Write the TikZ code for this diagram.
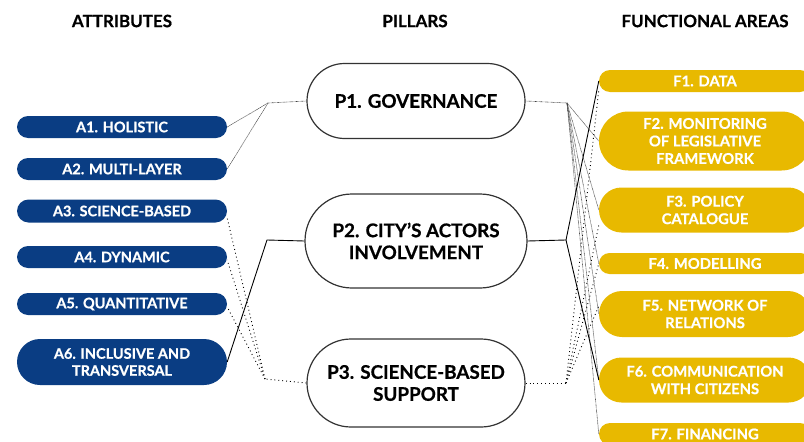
\documentclass[tikz,border=0pt]{standalone}
\usepackage{fontspec}
\setmainfont{Lato}[BoldFont={Lato Bold},BoldFeatures={FakeBold=0.6}]
\definecolor{navy}{HTML}{0A3D83}
\definecolor{gold}{HTML}{E8B900}
\definecolor{edge}{HTML}{333333}
\begin{document}
\begin{tikzpicture}[x=1pt,y=-1pt,
  hdr/.style={font=\bfseries\fontsize{17}{19}\selectfont, text=black},
  attr/.style={fill=navy, text=white, font=\bfseries\fontsize{14.5}{17}\selectfont,
     minimum width=210pt, align=center, inner sep=0pt},
  farea/.style={fill=gold, text=white, font=\bfseries\fontsize{14.8}{17.5}\selectfont,
     minimum width=212pt, align=center, inner sep=0pt},
  pillar/.style={draw=edge, line width=1.2pt, fill=white, text=black,
     font=\bfseries\fontsize{18.8}{22}\selectfont, align=center, inner sep=0pt},
  fine/.style={draw=black!75, line width=0.6pt, dash pattern=on 0.6pt off 0.6pt},
  coarse/.style={draw=black, line width=0.9pt, dash pattern=on 0.9pt off 3pt},
  solidln/.style={draw=black, line width=0.9pt}
]
\useasboundingbox (0,0) rectangle (804,442);

% headers
\node[hdr] (hA) at (122,21) {ATTRIBUTES};
\node[hdr] (hP) at (415,21) {PILLARS};
\node[hdr] (hF) at (705,21) {FUNCTIONAL AREAS};

% attributes
\node[attr, minimum height=22pt, rounded corners=11pt] (A1) at (122,127) {A1. HOLISTIC};
\node[attr, minimum height=22pt, rounded corners=11pt] (A2) at (122,169) {A2. MULTI-LAYER};
\node[attr, minimum height=23pt, rounded corners=11.5pt] (A3) at (122,211) {A3. SCIENCE-BASED};
\node[attr, minimum height=22pt, rounded corners=11pt] (A4) at (122,257) {A4. DYNAMIC};
\node[attr, minimum height=22pt, rounded corners=11pt] (A5) at (122,304) {A5. QUANTITATIVE};
\node[attr, minimum height=46pt, rounded corners=23pt] (A6) at (122,362) {A6. INCLUSIVE AND\\TRANSVERSAL};

% pillars
\node[pillar, minimum width=218pt, minimum height=75pt, rounded corners=37.5pt] (P1) at (416,101) {P1. GOVERNANCE};
\node[pillar, minimum width=222pt, minimum height=94pt, rounded corners=47pt] (P2) at (416,241) {P2. CITY'S ACTORS\\INVOLVEMENT};
\node[pillar, minimum width=218pt, minimum height=88pt, rounded corners=44pt] (P3) at (416,383) {P3. SCIENCE-BASED\\SUPPORT};

% functional areas
\node[farea, minimum height=22pt, rounded corners=11pt] (F1) at (705,81) {F1. DATA};
\node[farea, minimum height=59pt, rounded corners=29.5pt] (F2) at (705,141) {F2. MONITORING\\OF LEGISLATIVE\\FRAMEWORK};
\node[farea, minimum height=45pt, rounded corners=22.5pt] (F3) at (705,210) {F3. POLICY\\CATALOGUE};
\node[farea, minimum height=21pt, rounded corners=10.5pt] (F4) at (705,263.5) {F4. MODELLING};
\node[farea, minimum height=46pt, rounded corners=23pt] (F5) at (705,314) {F5. NETWORK OF\\RELATIONS};
\node[farea, minimum height=45pt, rounded corners=22.5pt] (F6) at (705,380) {F6. COMMUNICATION\\WITH CITIZENS};
\node[farea, minimum height=22pt, rounded corners=11pt] (F7) at (705,434) {F7. FINANCING};

% junctions
\coordinate (jL1) at (268,103);
\coordinate (jL2) at (267,240);
\coordinate (jL3) at (265,379);
\coordinate (jR1) at (567,103);
\coordinate (jR2) at (566,240);
\coordinate (jR3) at (566,383);

% left connectors
\draw[fine] (P1.west) -- (jL1);
\draw[fine] (jL1) -- (A1.east);
\draw[fine] (jL1) -- (A2.east);
\draw[solidln] (P2.west) -- (jL2) -- (A6.east);
\draw[coarse] (P3.west) -- (jL3);
\draw[coarse] (jL3) -- ([yshift=-7pt]A3.east);
\draw[coarse] (jL3) -- ([yshift=-3pt]A4.east);
\draw[coarse] (jL3) -- ([yshift=-3pt]A5.east);

% right connectors
\draw[fine] (P1.east) -- (jR1);
\foreach \f in {F2,F3,F4,F5,F6,F7} \draw[fine] (jR1) -- (\f.west);
\draw[solidln] (P2.east) -- (jR2);
\draw[solidln] (jR2) -- (F1.west);
\draw[solidln] (jR2) -- (F6.west);
\draw[coarse] (P3.east) -- (jR3);
\draw[coarse] (jR3) -- ([yshift=-9pt]F1.west);
\draw[coarse] (jR3) -- ([yshift=-15pt]F3.west);
\draw[coarse] (jR3) -- (F4.west);
\draw[coarse] (jR3) -- ([yshift=8pt]F5.west);
\end{tikzpicture}
\end{document}
